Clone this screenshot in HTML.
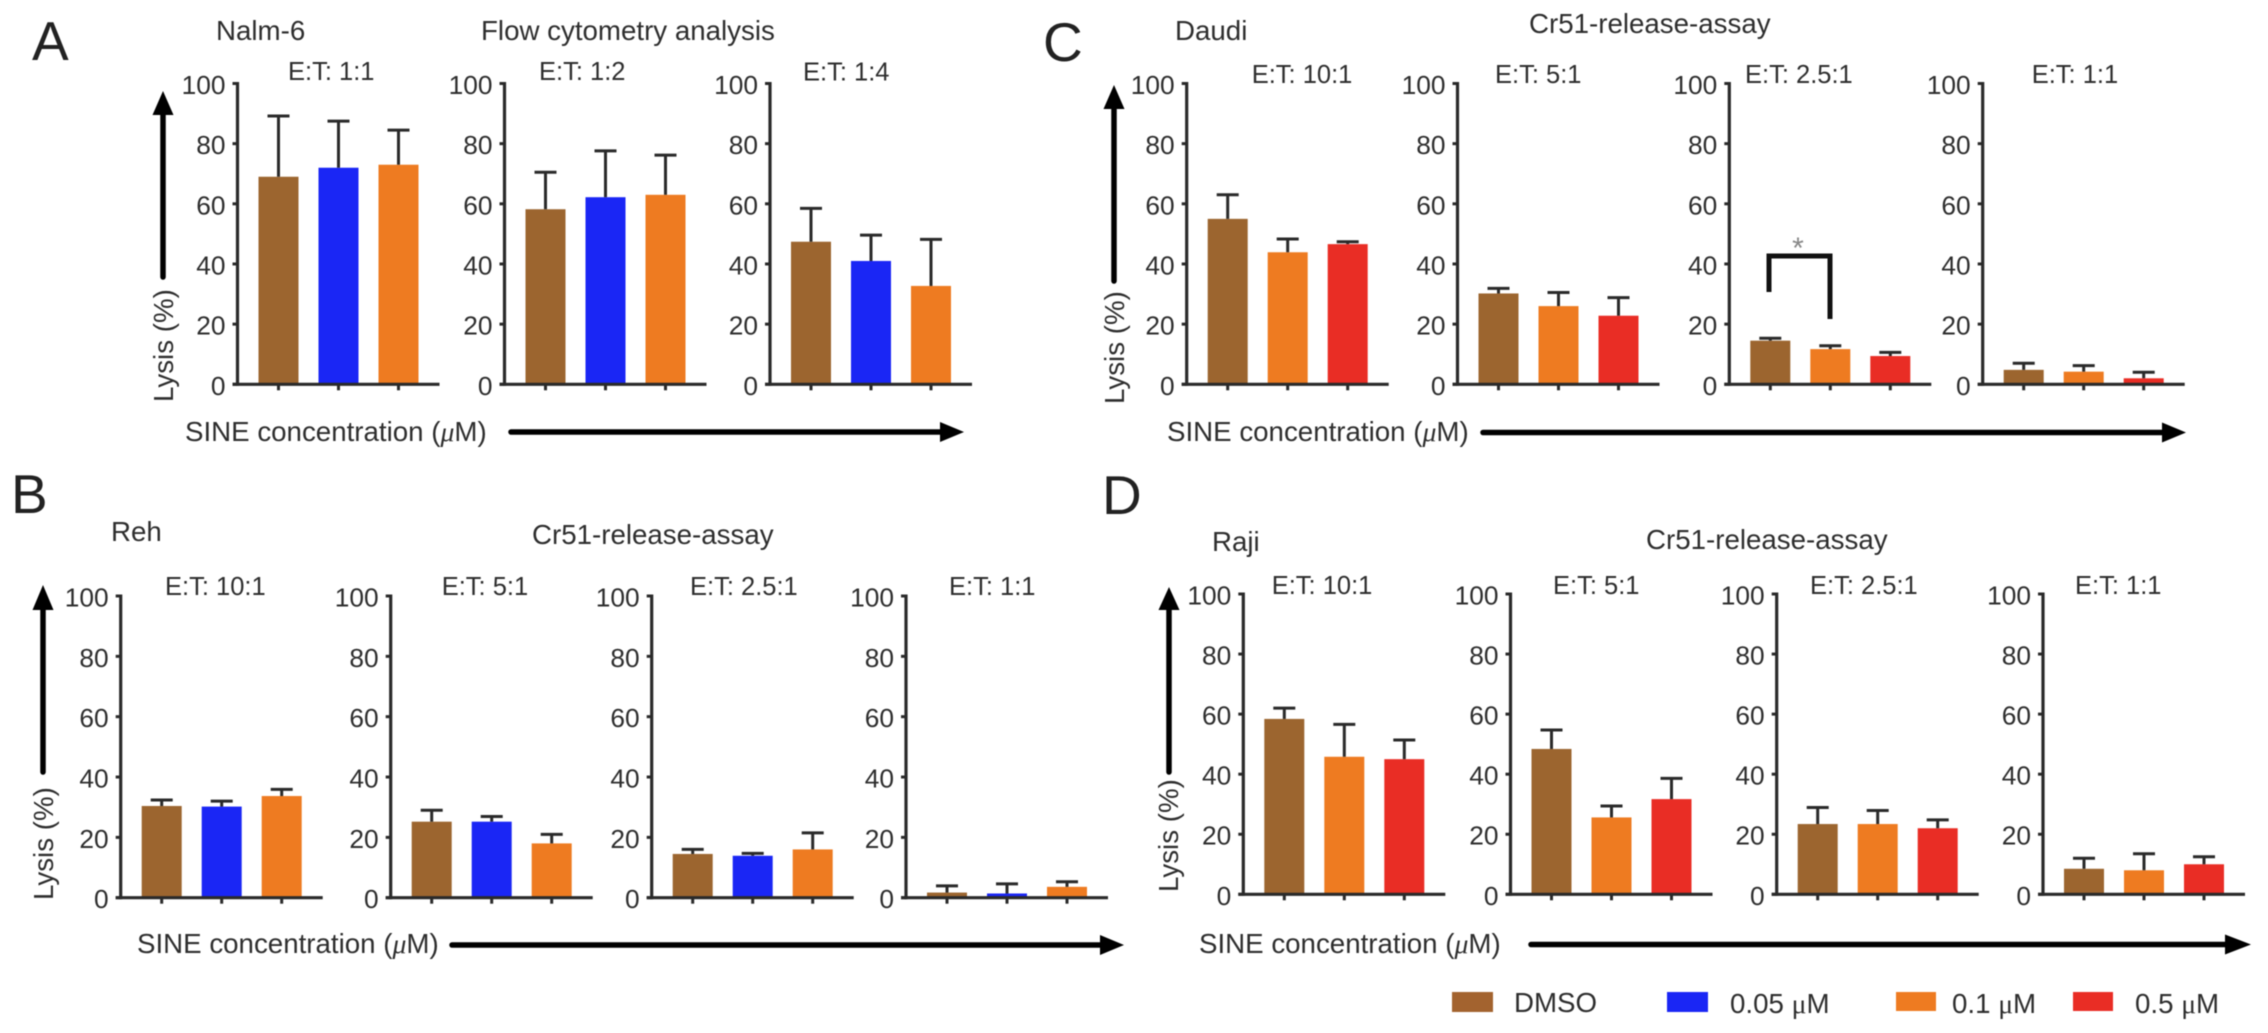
<!DOCTYPE html>
<html lang="en">
<head>
<meta charset="utf-8">
<title>Lysis bar charts</title>
<style>
html,body{margin:0;padding:0;background:#fff;}
#figure{display:block;width:2268px;height:1033px;filter:blur(0.55px);}
text{font-family:"Liberation Sans",sans-serif;fill:#2e2e2e;}
.ttl{font-size:27.7px;}
.et{font-size:25.5px;}
.tick{font-size:26.3px;text-anchor:end;}
.letter{font-size:55px;fill:#222;}
</style>
</head>
<body>
<svg id="figure" xmlns="http://www.w3.org/2000/svg" width="2268" height="1033" viewBox="0 0 2268 1033">
<rect width="2268" height="1033" fill="#fff"/>

<text class="letter" x="32" y="60">A</text>
<text class="letter" x="1043" y="61">C</text>
<text class="letter" x="11" y="513">B</text>
<text class="letter" x="1102" y="514">D</text>

<text class="ttl" x="216" y="40">Nalm-6</text>
<text class="ttl" x="481" y="40">Flow cytometry analysis</text>
<text class="ttl" x="1175" y="40">Daudi</text>
<text class="ttl" x="1529" y="33">Cr51-release-assay</text>
<text class="ttl" x="111" y="541">Reh</text>
<text class="ttl" x="532" y="544">Cr51-release-assay</text>
<text class="ttl" x="1212" y="551">Raji</text>
<text class="ttl" x="1646" y="549">Cr51-release-assay</text>

<text class="ttl" transform="translate(173,402) rotate(-90)">Lysis (%)</text>
<text class="ttl" transform="translate(1124,404) rotate(-90)">Lysis (%)</text>
<text class="ttl" transform="translate(53,900) rotate(-90)">Lysis (%)</text>
<text class="ttl" transform="translate(1178,892) rotate(-90)">Lysis (%)</text>

<text class="ttl" x="185" y="441">SINE concentration (<tspan font-family="Liberation Serif" font-style="italic">μ</tspan>M)</text>
<text class="ttl" x="1167" y="441">SINE concentration (<tspan font-family="Liberation Serif" font-style="italic">μ</tspan>M)</text>
<text class="ttl" x="137" y="953">SINE concentration (<tspan font-family="Liberation Serif" font-style="italic">μ</tspan>M)</text>
<text class="ttl" x="1199" y="953">SINE concentration (<tspan font-family="Liberation Serif" font-style="italic">μ</tspan>M)</text>

<g><line x1="163" y1="277" x2="163" y2="112" stroke="#000" stroke-width="5.5" stroke-linecap="round"/><polygon points="163,91 173.5,115 152.5,115" fill="#000"/></g>
<g><line x1="1114" y1="281" x2="1114" y2="108" stroke="#000" stroke-width="5.5" stroke-linecap="round"/><polygon points="1114,85 1124.5,109 1103.5,109" fill="#000"/></g>
<g><line x1="43" y1="772" x2="43" y2="607" stroke="#000" stroke-width="5.5" stroke-linecap="round"/><polygon points="43,585 53.5,610 32.5,610" fill="#000"/></g>
<g><line x1="1169" y1="772" x2="1169" y2="607" stroke="#000" stroke-width="5.5" stroke-linecap="round"/><polygon points="1169,587 1179.5,610 1158.5,610" fill="#000"/></g>

<g><line x1="511" y1="432" x2="942" y2="432" stroke="#000" stroke-width="5.5" stroke-linecap="round"/><polygon points="964,432 940,422 940,442" fill="#000"/></g>
<g><line x1="1483" y1="432.5" x2="2164" y2="432.5" stroke="#000" stroke-width="5.5" stroke-linecap="round"/><polygon points="2186,432.5 2162,422.5 2162,442.5" fill="#000"/></g>
<g><line x1="452" y1="945" x2="1102" y2="945" stroke="#000" stroke-width="5.5" stroke-linecap="round"/><polygon points="1124,945 1100,935 1100,955" fill="#000"/></g>
<g><line x1="1531" y1="944.5" x2="2228" y2="944.5" stroke="#000" stroke-width="5.5" stroke-linecap="round"/><polygon points="2251,944.5 2225,934.5 2225,954.5" fill="#000"/></g>

<g id="charts"></g>

<g>
<polyline points="1769,292 1769,256 1830,256 1830,319" fill="none" stroke="#111" stroke-width="5"/>
<text x="1798" y="258" text-anchor="middle" style="font-size:30px;fill:#888">*</text>
</g>

<g>
<g><rect x="1452" y="992" width="41" height="20" fill="#A3632F"/><text class="ttl" x="1514" y="1012">DMSO</text></g>
<g><rect x="1667" y="992" width="41" height="20" fill="#1A26F5"/><text class="ttl" x="1730" y="1013">0.05 <tspan font-family="Liberation Serif">μ</tspan>M</text></g>
<g><rect x="1896" y="992" width="40" height="19" fill="#EE7B21"/><text class="ttl" x="1952" y="1013">0.1 <tspan font-family="Liberation Serif">μ</tspan>M</text></g>
<g><rect x="2073" y="992" width="40" height="19" fill="#E92D25"/><text class="ttl" x="2135" y="1013">0.5 <tspan font-family="Liberation Serif">μ</tspan>M</text></g>
</g>
</svg>

<script>
// Chart data (percent lysis)
const yTickValues = [0, 20, 40, 60, 80, 100];
const doses = ['DMSO', '0.05', '0.1', '0.5'];

const doseA = ['DMSO', '0.05', '0.1'];
const doseC = ['DMSO', '0.1', '0.5'];

const a1Lysis = [69, 72, 73];       const a1Upper = [89.2, 87.5, 84.5];
const a2Lysis = [58.2, 62.2, 63];   const a2Upper = [70.5, 77.6, 76.2];
const a3Lysis = [47.4, 41, 32.7];   const a3Upper = [58.5, 49.6, 48.2];

const b1Lysis = [30.4, 30.2, 33.7]; const b1Upper = [32.4, 32, 35.9];
const b2Lysis = [25.2, 25.2, 18];   const b2Upper = [29, 26.9, 21];
const b3Lysis = [14.5, 13.9, 16];   const b3Upper = [16, 14.7, 21.5];
const b4Lysis = [1.7, 1.4, 3.6];    const b4Upper = [3.9, 4.6, 5.3];

const c1Lysis = [55, 43.9, 46.6];   const c1Upper = [63, 48.3, 47.4];
const c2Lysis = [30.2, 26, 22.8];   const c2Upper = [31.9, 30.5, 28.8];
const c3Lysis = [14.5, 11.7, 9.4];  const c3Upper = [15.3, 12.8, 10.6];
const c4Lysis = [4.8, 4.2, 2];      const c4Upper = [7, 6.2, 4];

const d1Lysis = [58.4, 45.8, 45];   const d1Upper = [62, 56.6, 51.4];
const d2Lysis = [48.4, 25.6, 31.7]; const d2Upper = [54.7, 29.4, 38.6];
const d3Lysis = [23.4, 23.4, 22];   const d3Upper = [28.9, 27.9, 24.8];
const d4Lysis = [8.5, 8, 10];       const d4Upper = [12, 13.5, 12.5];

// Layout (separate from data)
const doseColor = {'DMSO': '#9C652F', '0.05': '#1A26F5', '0.1': '#EE7B21', '0.5': '#E92D25'};
const SVGNS = 'http://www.w3.org/2000/svg';
const root = document.getElementById('charts');

function mk(parent, tag, attrs, txt) {
  const el = document.createElementNS(SVGNS, tag);
  for (const k in attrs) el.setAttribute(k, attrs[k]);
  if (txt !== undefined) el.textContent = txt;
  parent.appendChild(el);
  return el;
}

function drawPanel(id, label, labelX, labelY, axisX, y100, y0, groupDoses, lysis, upper) {
  const yScale = v => y0 - (v / 100) * (y0 - y100);
  const xScale = i => axisX + 41 + i * 60;
  const g = mk(root, 'g', {});
  
  

  const et = mk(g, 'text', {class: 'et', x: labelX, y: labelY}, label);
  
  

  lysis.forEach((v, i) => {
    const cx = xScale(i);
    const bar = mk(g, 'rect', {x: cx - 20, y: yScale(v), width: 40, height: y0 - yScale(v), fill: doseColor[groupDoses[i]]});
    
    

    const stem = mk(g, 'line', {x1: cx, x2: cx, y1: yScale(v), y2: yScale(upper[i]), stroke: '#2a2a2a', 'stroke-width': 3});
    
    

    const cap = mk(g, 'line', {x1: cx - 11, x2: cx + 11, y1: yScale(upper[i]), y2: yScale(upper[i]), stroke: '#2a2a2a', 'stroke-width': 3});
    
    

    const xt = mk(g, 'line', {x1: cx, x2: cx, y1: y0, y2: y0 + 6, stroke: '#2a2a2a', 'stroke-width': 3});
    
    
  });

  const yAxis = mk(g, 'line', {x1: axisX, x2: axisX, y1: y100 - 1.5, y2: y0 + 1.5, stroke: '#2a2a2a', 'stroke-width': 3.2});
  
  

  const xAxis = mk(g, 'line', {x1: axisX - 5, x2: axisX + 202, y1: y0, y2: y0, stroke: '#2a2a2a', 'stroke-width': 3.2});
  
  

  yTickValues.forEach(t => {
    const ty = yScale(t);
    const tk = mk(g, 'line', {x1: axisX - 5, x2: axisX, y1: ty, y2: ty, stroke: '#2a2a2a', 'stroke-width': 3});
    
    
    const lb = mk(g, 'text', {class: 'tick', x: axisX - 12, y: ty + 10.5}, String(t));
    
    
  });
}

drawPanel('a1', 'E:T: 1:1', 288, 80, 237.5, 83.5, 384.3, doseA, a1Lysis, a1Upper);
drawPanel('a2', 'E:T: 1:2', 539, 80, 504.5, 83.5, 384.3, doseA, a2Lysis, a2Upper);
drawPanel('a3', 'E:T: 1:4', 803, 80.5, 770, 83.5, 384.3, doseA, a3Lysis, a3Upper);

drawPanel('b1', 'E:T: 10:1', 165, 595, 120.7, 596, 897.7, doseA, b1Lysis, b1Upper);
drawPanel('b2', 'E:T: 5:1', 441.7, 595, 390.7, 596, 897.7, doseA, b2Lysis, b2Upper);
drawPanel('b3', 'E:T: 2.5:1', 690, 595, 651.7, 596, 897.7, doseA, b3Lysis, b3Upper);
drawPanel('b4', 'E:T: 1:1', 949, 595, 906, 596, 897.7, doseA, b4Lysis, b4Upper);

drawPanel('c1', 'E:T: 10:1', 1251.7, 83, 1186.7, 83.5, 384.3, doseC, c1Lysis, c1Upper);
drawPanel('c2', 'E:T: 5:1', 1495, 83, 1457.5, 83.5, 384.3, doseC, c2Lysis, c2Upper);
drawPanel('c3', 'E:T: 2.5:1', 1745, 83, 1729.3, 83.5, 384.3, doseC, c3Lysis, c3Upper);
drawPanel('c4', 'E:T: 1:1', 2031.7, 83, 1982.7, 83.5, 384.3, doseC, c4Lysis, c4Upper);

drawPanel('d1', 'E:T: 10:1', 1271.7, 594, 1243.3, 594, 894.3, doseC, d1Lysis, d1Upper);
drawPanel('d2', 'E:T: 5:1', 1553, 594, 1510.5, 594, 894.3, doseC, d2Lysis, d2Upper);
drawPanel('d3', 'E:T: 2.5:1', 1810, 594, 1776.7, 594, 894.3, doseC, d3Lysis, d3Upper);
drawPanel('d4', 'E:T: 1:1', 2075, 594, 2043, 594, 894.3, doseC, d4Lysis, d4Upper);
</script>
</body>
</html>
